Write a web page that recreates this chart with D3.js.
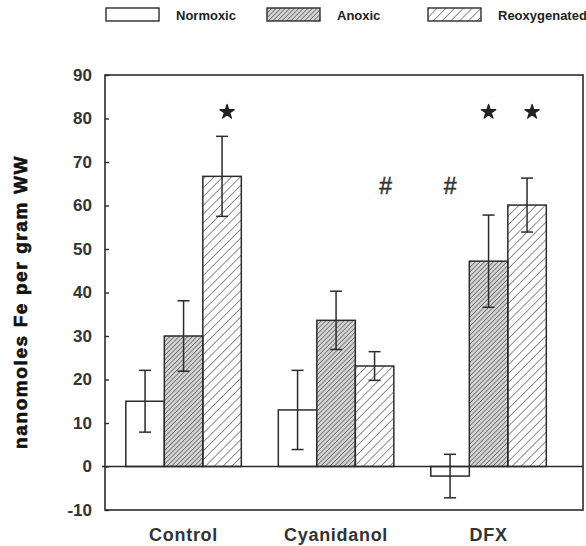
<!DOCTYPE html>
<html>
<head>
<meta charset="utf-8">
<script src="https://cdn.jsdelivr.net/npm/d3@7"></script>
<style>
  body { margin: 0; background: #fff; }
  svg { display: block; font-family: "Liberation Sans", Arial, sans-serif; }
</style>
</head>
<body>
<div id="chart"></div>
<script>
// data
var groups = ["Control", "Cyanidanol", "DFX"];
var series = ["Normoxic", "Anoxic", "Reoxygenated"];
var normoxic = [15.0, 13.0, -2.2];
var anoxic = [30.0, 33.6, 47.2];
var reoxygenated = [66.7, 23.1, 60.1];
var errNormoxic = [7.1, 9.1, 5.0];
var errAnoxic = [8.1, 6.7, 10.6];
var errReoxygenated = [9.2, 3.3, 6.2];
var yTicks = [-10, 0, 10, 20, 30, 40, 50, 60, 70, 80, 90];
// significance marks: group, series, symbol, height
var marks = [
  {g: "Control", s: "Reoxygenated", sym: "*", v: 81.5},
  {g: "Cyanidanol", s: "Reoxygenated", sym: "#", v: 64.5},
  {g: "DFX", s: "Normoxic", sym: "#", v: 64.5},
  {g: "DFX", s: "Anoxic", sym: "*", v: 81.5},
  {g: "DFX", s: "Reoxygenated", sym: "*", v: 81.5}
];

var values = {Normoxic: normoxic, Anoxic: anoxic, Reoxygenated: reoxygenated};
var errors = {Normoxic: errNormoxic, Anoxic: errAnoxic, Reoxygenated: errReoxygenated};

var rows = [];
groups.forEach(function(g, i) {
  series.forEach(function(s) {
    rows.push({g: g, s: s, v: values[s][i], e: errors[s][i]});
  });
});

var margin = {top: 75, right: 3, bottom: 36, left: 105};
var width = 586 - margin.left - margin.right;
var height = 546 - margin.top - margin.bottom;
var ink = "#2b2b2b";

var svg = d3.select("#chart").append("svg")
    .attr("width", 586)
    .attr("height", 546);

// hatch patterns
var defs = svg.append("defs");
var dense = defs.append("pattern")
    .attr("id", "hatch-dense")
    .attr("patternUnits", "userSpaceOnUse")
    .attr("width", 3.2).attr("height", 3.2)
    .attr("patternTransform", "rotate(45)");
dense.append("rect")
    .attr("width", 3.2).attr("height", 3.2)
    .attr("fill", "#d4d4d4");
dense.append("line")
    .attr("x1", 0).attr("y1", 0).attr("x2", 0).attr("y2", 3.2)
    .attr("stroke", "#444").attr("stroke-width", 1.2);
defs.append("pattern")
    .attr("id", "hatch-wide")
    .attr("patternUnits", "userSpaceOnUse")
    .attr("width", 6.2).attr("height", 6.2)
    .attr("patternTransform", "rotate(45)")
    .append("line")
    .attr("x1", 0).attr("y1", 0).attr("x2", 0).attr("y2", 6.2)
    .attr("stroke", "#333").attr("stroke-width", 1.1);

var fills = {Normoxic: "#fff", Anoxic: "url(#hatch-dense)", Reoxygenated: "url(#hatch-wide)"};

var g = svg.append("g")
    .attr("transform", "translate(" + margin.left + "," + margin.top + ")");

var x0 = d3.scaleBand()
    .domain(groups)
    .range([0, width])
    .paddingInner(0.2426)
    .paddingOuter(0.1885)
    .align(0.362);

var x1 = d3.scaleBand()
    .domain(series)
    .range([0, x0.bandwidth()]);

var y = d3.scaleLinear()
    .domain([-10, 90])
    .range([height, 0]);

function cx(d) { return x0(d.g) + x1(d.s) + x1.bandwidth() / 2; }

// frame
g.append("rect")
    .attr("x", 0).attr("y", 0)
    .attr("width", width).attr("height", height)
    .attr("fill", "none")
    .attr("stroke", ink)
    .attr("stroke-width", 1.6);

// y axis, ticks pointing inward, plain hyphen for negatives
var yAxis = g.append("g")
    .call(d3.axisLeft(y).tickValues(yTicks).tickFormat(function(d) { return String(d); })
        .tickSizeInner(-4).tickSizeOuter(0).tickPadding(13));
yAxis.select(".domain").remove();
yAxis.selectAll("line").attr("stroke", ink).attr("stroke-width", 1.4);
yAxis.selectAll("text")
    .attr("fill", "#333")
    .style("font-size", "17px")
    .style("font-weight", "bold")
    .style("font-family", "'Liberation Sans', Arial, sans-serif");

// bars
g.append("g").selectAll("rect")
    .data(rows)
    .enter()
    .append("rect")
    .attr("x", function(d) { return x0(d.g) + x1(d.s); })
    .attr("y", function(d) { return y(Math.max(0, d.v)); })
    .attr("width", x1.bandwidth())
    .attr("height", function(d) { return Math.abs(y(d.v) - y(0)); })
    .attr("fill", function(d) { return fills[d.s]; })
    .attr("stroke", ink)
    .attr("stroke-width", 1.5);

// zero line
g.append("line")
    .attr("x1", -3).attr("x2", width)
    .attr("y1", y(0)).attr("y2", y(0))
    .attr("stroke", ink)
    .attr("stroke-width", 1.6);

// error bars
var capW = 6;
var eb = g.append("g").selectAll("g")
    .data(rows)
    .enter()
    .append("g")
    .attr("stroke", ink)
    .attr("stroke-width", 1.5);
eb.append("line")
    .attr("x1", cx)
    .attr("x2", cx)
    .attr("y1", function(d) { return y(d.v + d.e); })
    .attr("y2", function(d) { return y(d.v - d.e); });
[1, -1].forEach(function(sign) {
  eb.append("line")
      .attr("x1", function(d) { return cx(d) - capW; })
      .attr("x2", function(d) { return cx(d) + capW; })
      .attr("y1", function(d) { return y(d.v + sign * d.e); })
      .attr("y2", function(d) { return y(d.v + sign * d.e); });
});

// significance symbols (stars drawn as symbols, # as text)
var nudge = function(d) {
  if (d.sym === "#" && d.g === "Cyanidanol") return 11;
  if (d.sym === "*" && d.s === "Reoxygenated") return 5;
  return 0;
};
g.append("g").selectAll("path")
    .data(marks.filter(function(d) { return d.sym === "*"; }))
    .enter()
    .append("path")
    .attr("d", d3.symbol(d3.symbolStar, 64))
    .attr("transform", function(d) { return "translate(" + (cx(d) + nudge(d)) + "," + y(d.v) + ")"; })
    .attr("fill", "#222")
    .attr("stroke", "#222")
    .attr("stroke-width", 1.2)
    .attr("stroke-linejoin", "round");
g.append("g").selectAll("text")
    .data(marks.filter(function(d) { return d.sym === "#"; }))
    .enter()
    .append("text")
    .attr("x", function(d) { return cx(d) + nudge(d); })
    .attr("y", function(d) { return y(d.v); })
    .attr("text-anchor", "middle")
    .attr("dy", "0.36em")
    .attr("fill", "#333")
    .attr("stroke", "#333")
    .attr("stroke-width", 0.5)
    .style("font-size", "23px")
    .text(function(d) { return d.sym; });

// category labels
g.append("g").selectAll("text")
    .data(groups)
    .enter()
    .append("text")
    .attr("x", function(d) { return x0(d) + x0.bandwidth() / 2; })
    .attr("y", height + 31)
    .attr("text-anchor", "middle")
    .attr("fill", "#333")
    .style("font-size", "18px")
    .style("font-weight", "bold")
    .style("letter-spacing", "0.7px")
    .text(function(d) { return d; });

// y axis title
svg.append("text")
    .attr("transform", "translate(27,302) rotate(-90)")
    .attr("text-anchor", "middle")
    .attr("fill", "#111")
    .attr("stroke", "#111")
    .attr("stroke-width", 0.6)
    .style("font-size", "19px")
    .style("font-weight", "bold")
    .style("letter-spacing", "1.6px")
    .text("nanomoles Fe per gram WW");

// legend
var legendX = [106, 267, 428];
var legend = svg.append("g").selectAll("g")
    .data(series)
    .enter()
    .append("g")
    .attr("transform", function(d, i) { return "translate(" + legendX[i] + ",8)"; });
legend.append("rect")
    .attr("width", 53).attr("height", 13)
    .attr("fill", function(d) { return fills[d]; })
    .attr("stroke", ink)
    .attr("stroke-width", 1.4);
legend.append("text")
    .attr("x", 70)
    .attr("y", 11.5)
    .attr("fill", "#222")
    .style("font-size", "13px")
    .style("font-weight", "bold")
    .text(function(d) { return d; });
</script>
</body>
</html>
